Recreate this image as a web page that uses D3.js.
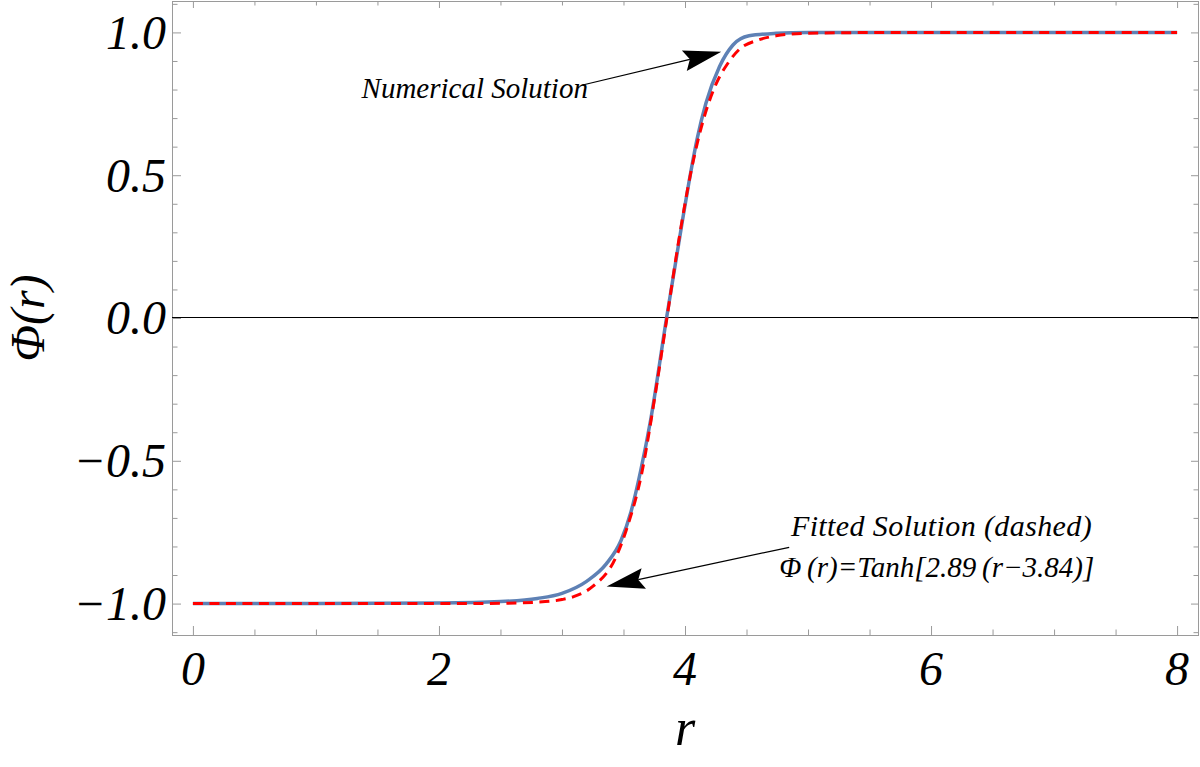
<!DOCTYPE html>
<html>
<head>
<meta charset="utf-8">
<script src="https://cdn.jsdelivr.net/npm/d3@7"></script>
<style>
  body { margin: 0; background: #fff; }
</style>
</head>
<body>
<div class="chart"></div>
<script>
//Numerical solution (solid blue)
var numR   = [0, 1, 2, 2.5, 2.8, 3.0, 3.2, 3.36, 3.48, 3.56, 3.64, 3.72, 3.85, 3.98, 4.03, 4.10, 4.17, 4.28, 4.39, 4.52, 4.74, 5.0, 6, 8];
var numPhi = [-1, -1, -0.998, -0.993, -0.982, -0.964, -0.922, -0.861, -0.779, -0.680, -0.534, -0.359, 0, 0.343, 0.470, 0.630, 0.752, 0.880, 0.956, 0.988, 0.997, 1, 1, 1];

//Fitted solution (dashed red)
var fitR   = [0, 2, 2.5, 2.8, 3.0, 3.1, 3.25, 3.43, 3.53, 3.65, 3.75, 3.853, 3.95, 4.05, 4.15, 4.25, 4.35, 4.44, 4.6, 4.74, 5.0, 5.5, 6, 8];
var fitPhi = [-1, -1, -0.999, -0.995, -0.986, -0.975, -0.940, -0.845, -0.733, -0.540, -0.289, 0, 0.273, 0.515, 0.695, 0.817, 0.893, 0.940, 0.974, 0.988, 0.997, 0.9995, 1, 1];

//Tick labels
var xTicks = [0, 2, 4, 6, 8];
var yTicks = [-1, -0.5, 0, 0.5, 1];

//Size and plot frame
var w = 1200;
var h = 767;
var pLeft = 172, pRight = 1198, pTop = 1, pBottom = 635;
var font = "'Liberation Serif', 'Times New Roman', serif";

var svg = d3.select(".chart")
    .append("svg")
    .attr("width", w)
    .attr("height", h);

var xScale = d3.scaleLinear().domain([-0.17, 8.17]).range([pLeft, pRight]);
var yScale = d3.scaleLinear().domain([-1.11, 1.11]).range([pBottom, pTop]);

var frameColor = "#9a9a9a";

//Minor ticks, not labelled
var xMinor = d3.range(0, 8.01, 0.5).filter(v => v % 2 !== 0);
var yMinor = d3.range(-11, 12).map(v => v / 10).filter(v => Math.abs(v * 2 - Math.round(v * 2)) > 1e-6);

function tickGroup(axis, tx, ty) {
    var g = svg.append("g")
        .attr("transform", "translate(" + tx + "," + ty + ")")
        .call(axis);
    g.select(".domain").remove();
    g.selectAll("line").attr("stroke", frameColor);
    g.selectAll("text").remove();
    return g;
}

// inward ticks on all four sides
tickGroup(d3.axisBottom(xScale).tickValues(xTicks).tickSize(-9), 0, pBottom);
tickGroup(d3.axisBottom(xScale).tickValues(xMinor).tickSize(-5.5), 0, pBottom);
tickGroup(d3.axisTop(xScale).tickValues(xTicks).tickSize(-7), 0, pTop);
tickGroup(d3.axisTop(xScale).tickValues(xMinor).tickSize(-4.5), 0, pTop);
tickGroup(d3.axisLeft(yScale).tickValues(yTicks).tickSize(-9), pLeft, 0);
tickGroup(d3.axisLeft(yScale).tickValues(yMinor).tickSize(-5.5), pLeft, 0);
tickGroup(d3.axisRight(yScale).tickValues(yTicks).tickSize(-7), pRight, 0);
tickGroup(d3.axisRight(yScale).tickValues(yMinor).tickSize(-4.5), pRight, 0);

//Frame
svg.append("rect")
    .attr("x", pLeft + 0.5)
    .attr("y", pTop + 0.5)
    .attr("width", pRight - pLeft)
    .attr("height", pBottom - pTop)
    .attr("fill", "none")
    .attr("stroke", frameColor)
    .attr("stroke-width", 1);

function label(x, y, size, str) {
    return svg.append("text")
        .attr("x", x)
        .attr("y", y)
        .style("font-family", font)
        .style("font-style", "italic")
        .attr("font-size", size)
        .text(str);
}

//Tick labels
xTicks.forEach(function (d) {
    label(xScale(d), 685, 48, d).attr("text-anchor", "middle");
});
yTicks.forEach(function (d) {
    label(pLeft - 6, yScale(d), 48, (d < 0 ? "\u2212" : "") + d3.format(".1f")(Math.abs(d)))
        .attr("dy", "0.34em")
        .attr("text-anchor", "end");
});

//Axis titles
label(xScale(4), 745, 52, "r").attr("text-anchor", "middle");

label(0, 0, 48, "\u03A6(r)")
    .attr("transform", "translate(44," + yScale(0) + ") rotate(-90)")
    .attr("text-anchor", "middle");

//Zero line
svg.append("line")
    .attr("x1", pLeft)
    .attr("x2", pRight)
    .attr("y1", Math.round(yScale(0)) - 0.5)
    .attr("y2", Math.round(yScale(0)) - 0.5)
    .attr("stroke", "#000")
    .attr("stroke-width", 1);

//Curves
var line = d3.line()
    .x(d => xScale(d[0]))
    .y(d => yScale(d[1]))
    .curve(d3.curveMonotoneX);

svg.append("path")
    .datum(d3.zip(numR, numPhi))
    .attr("d", line)
    .attr("fill", "none")
    .attr("stroke", "#5E81B5")
    .attr("stroke-width", 3.5);

svg.append("path")
    .datum(d3.zip(fitR, fitPhi))
    .attr("d", line)
    .attr("fill", "none")
    .attr("stroke", "#ff0000")
    .attr("stroke-width", 3)
    .attr("stroke-dasharray", "10,6.5");

//Annotation arrows
function arrow(from, to) {
    var x1 = xScale(from[0]), y1 = yScale(from[1]);
    var x2 = xScale(to[0]), y2 = yScale(to[1]);
    var len = Math.hypot(x2 - x1, y2 - y1);
    var ux = (x2 - x1) / len, uy = (y2 - y1) / len;
    var hl = 38, hw = 10.5;
    var bx = x2 - ux * hl, by = y2 - uy * hl;
    var nx = x2 - ux * hl * 0.85, ny = y2 - uy * hl * 0.85;
    svg.append("line")
        .attr("x1", x1).attr("y1", y1)
        .attr("x2", nx).attr("y2", ny)
        .attr("stroke", "#000")
        .attr("stroke-width", 1.2);
    svg.append("path")
        .attr("d", "M" + x2 + "," + y2 +
            "L" + (bx - uy * hw) + "," + (by + ux * hw) +
            "L" + nx + "," + ny +
            "L" + (bx + uy * hw) + "," + (by - ux * hw) + "Z")
        .attr("fill", "#000");
}

arrow([3.168, 0.816], [4.295, 0.932]);
arrow([4.847, -0.803], [3.363, -0.940]);

label(xScale(1.371), yScale(0.770), 29, "Numerical Solution");
label(xScale(4.861), yScale(-0.762), 30, "Fitted Solution (dashed)")
    .style("letter-spacing", "0.4px");
label(xScale(4.766), yScale(-0.908), 29, "\u03A6\u2009(r)=Tanh[2.89\u2009(r\u22123.84)]");
</script>
</body>
</html>
